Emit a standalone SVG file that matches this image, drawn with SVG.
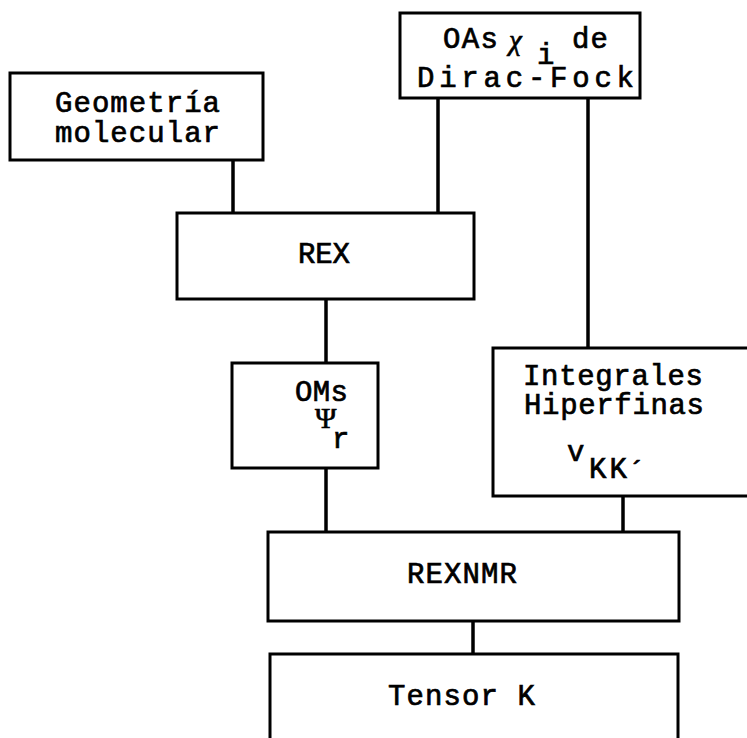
<svg xmlns="http://www.w3.org/2000/svg" width="747" height="738" viewBox="0 0 747 738">
<style>
.box{fill:#fff;stroke:#000;stroke-width:3}
.c line{stroke:#000;stroke-width:3.5}
text{font-family:"Liberation Mono","DejaVu Sans Mono",monospace;font-size:29px;fill:#000;stroke:#000;stroke-width:0.7}
.g{font-family:"Liberation Serif","DejaVu Serif",serif}
</style>
<rect width="747" height="738" fill="#fff"/>
<g class="c" id="connectors">
<line x1="233" y1="160" x2="233" y2="213"/>
<line x1="438" y1="98" x2="438" y2="213"/>
<line x1="588" y1="98" x2="588" y2="348"/>
<line x1="326" y1="299" x2="326" y2="363"/>
<line x1="326" y1="468" x2="326" y2="532"/>
<line x1="623" y1="496" x2="623" y2="532"/>
<line x1="473" y1="621" x2="473" y2="654"/>
</g>
<g id="geometria">
<rect class="box" x="10" y="73" width="253" height="87"/>
<text x="55" y="112" textLength="165" lengthAdjust="spacing">Geometría</text>
<text x="55" y="142" textLength="165" lengthAdjust="spacing">molecular</text>
</g>
<g id="oas">
<rect class="box" x="400" y="13" width="240" height="85"/>
<text x="443" y="48" textLength="55" lengthAdjust="spacing">OAs</text>
<text x="509" y="50" class="g" font-style="italic" font-size="34">χ</text>
<text x="537" y="64" font-size="22">i</text>
<text x="572" y="48" textLength="36" lengthAdjust="spacing">de</text>
<text x="417" y="87" textLength="217" lengthAdjust="spacing">Dirac-Fock</text>
</g>
<g id="rex">
<rect class="box" x="177" y="213" width="297" height="86"/>
<text x="298" y="263" textLength="52" lengthAdjust="spacing">REX</text>
</g>
<g id="oms">
<rect class="box" x="232" y="363" width="146" height="105"/>
<text x="295" y="401" textLength="53" lengthAdjust="spacing">OMs</text>
<text x="315" y="428" class="g" font-size="17">Ψ</text>
<text x="332" y="448">r</text>
</g>
<g id="integrales">
<rect class="box" x="493" y="348" width="262" height="148"/>
<text x="523" y="385" textLength="180" lengthAdjust="spacing">Integrales</text>
<text x="524" y="414" textLength="180" lengthAdjust="spacing">Hiperfinas</text>
<text x="567" y="461" font-size="21">v</text>
<text x="589" y="478" textLength="38" lengthAdjust="spacing">KK</text>
<text x="628" y="481">´</text>
</g>
<g id="rexnmr">
<rect class="box" x="268" y="532" width="411" height="89"/>
<text x="407" y="583" textLength="110" lengthAdjust="spacing">REXNMR</text>
</g>
<g id="tensor">
<rect class="box" x="270" y="654" width="408" height="100"/>
<text x="388" y="705" textLength="147" lengthAdjust="spacing">Tensor K</text>
</g>
</svg>
